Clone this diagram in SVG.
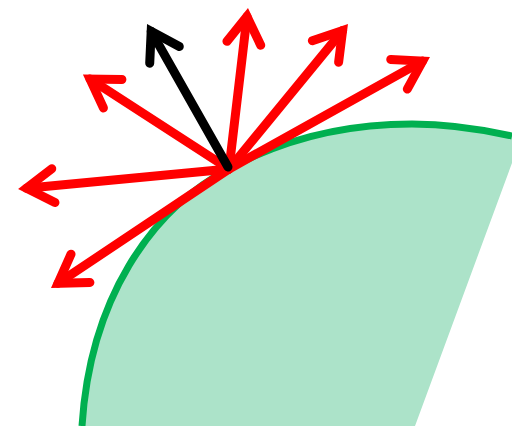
<svg xmlns="http://www.w3.org/2000/svg" width="512" height="426" viewBox="0 0 512 426">
<style>
.shaft{fill:none;stroke-width:9;stroke-linecap:round}
.red{stroke:#FF0000}
.blk{stroke:#000000}
.head{fill:none;stroke-width:9;stroke-linejoin:miter;stroke-linecap:round;stroke-miterlimit:10}
</style>
<defs>
<marker id="hr" markerUnits="userSpaceOnUse" orient="auto" overflow="visible" markerWidth="1" markerHeight="1" refX="0" refY="0">
<path class="head" stroke="#FF0000" d="M-27,-17 L0,0 L-27,17"/>
</marker>
<marker id="hb" markerUnits="userSpaceOnUse" orient="auto" overflow="visible" markerWidth="1" markerHeight="1" refX="0" refY="0">
<path class="head" stroke="#000000" d="M-27,-17 L0,0 L-27,17"/>
</marker>
</defs>
<g id="surface">
<path d="M82,426 C90,300 150,210 230,168 C290,136 350,124 412,124 C450,124 485,130 512,136 L512,163 L415,426 Z" fill="#ACE3C9"/>
<path d="M82,426 C90,300 150,210 230,168 C290,136 350,124 412,124 C450,124 485,130 512,136" fill="none" stroke="#00B050" stroke-width="7"/>
</g>
<g id="connectors">
<line class="shaft red" x1="229" y1="169" x2="90" y2="79" marker-end="url(#hr)"/>
<line class="shaft red" x1="229" y1="169" x2="247" y2="16.5" marker-end="url(#hr)"/>
<line class="shaft red" x1="229" y1="169" x2="342.6" y2="30.6" marker-end="url(#hr)"/>
<line class="shaft red" x1="229" y1="169" x2="422.6" y2="61.1" marker-end="url(#hr)"/>
<line class="shaft red" x1="229" y1="169" x2="26.5" y2="188.2" marker-end="url(#hr)"/>
<line class="shaft red" x1="229" y1="169" x2="58" y2="283.3" marker-end="url(#hr)"/>
<line class="shaft blk" x1="228" y1="167" x2="151.2" y2="31.4" marker-end="url(#hb)"/>
</g>
</svg>
